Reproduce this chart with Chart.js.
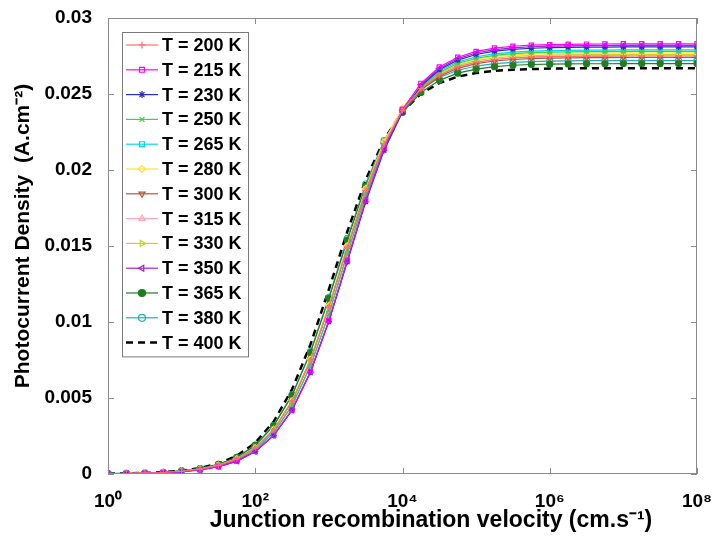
<!DOCTYPE html>
<html>
<head>
<meta charset="utf-8">
<script src="https://cdn.jsdelivr.net/npm/chart.js@4.4.1/dist/chart.umd.min.js"></script>
<style>
  html, body { margin: 0; padding: 0; background: #fff; }
  #wrap { width: 712px; height: 540px; }
</style>
</head>
<body>
<div id="wrap"><canvas id="chart-jph" width="712" height="540"></canvas></div>
<script>
// junction recombination velocity (cm/s), quarter-decade steps
const velocity = [1, 1.778, 3.162, 5.623, 10, 17.78, 31.62, 56.23, 100, 177.8, 316.2, 562.3,
  1000, 1778, 3162, 5623, 10000, 17783, 31623, 56234, 100000, 177828, 316228, 562341,
  1000000, 1778279, 3162278, 5623413, 10000000, 17782794, 31622777, 56234133, 100000000];

const xTicks = [1, 100, 10000, 1000000, 100000000];
const xTickLabels = ["10\u2070", "10\u00b2", "10\u2074", "10\u2076", "10\u2078"];
const yTicks = [0, 0.005, 0.01, 0.015, 0.02, 0.025, 0.03];

const xTitle = "Junction recombination velocity (cm.s\u207b\u00b9)";
const yTitle = "Photocurrent Density  (A.cm\u207b\u00b2)";

const temps = ["T = 200 K", "T = 215 K", "T = 230 K", "T = 250 K", "T = 265 K", "T = 280 K",
  "T = 300 K", "T = 315 K", "T = 330 K", "T = 350 K", "T = 365 K", "T = 380 K", "T = 400 K"];

// photocurrent density (A/cm2)
const j200 = [0.00002, 0.00003, 0.00006, 0.00010, 0.00018, 0.00032, 0.00057, 0.00099, 0.00172, 0.00291, 0.00479, 0.00750,
  0.01100, 0.01492, 0.01865, 0.02171, 0.02391, 0.02536, 0.02625, 0.02679, 0.02709, 0.02727, 0.02737, 0.02743,
  0.02746, 0.02748, 0.02749, 0.02749, 0.02750, 0.02750, 0.02750, 0.02750, 0.02750];
const j215 = [0.00002, 0.00003, 0.00005, 0.00009, 0.00016, 0.00028, 0.00049, 0.00086, 0.00149, 0.00254, 0.00423, 0.00674,
  0.01011, 0.01406, 0.01803, 0.02144, 0.02398, 0.02570, 0.02678, 0.02742, 0.02780, 0.02802, 0.02814, 0.02821,
  0.02825, 0.02827, 0.02828, 0.02829, 0.02830, 0.02830, 0.02830, 0.02830, 0.02830];
const j230 = [0.00002, 0.00003, 0.00005, 0.00009, 0.00016, 0.00027, 0.00049, 0.00085, 0.00148, 0.00253, 0.00420, 0.00669,
  0.01004, 0.01396, 0.01791, 0.02129, 0.02381, 0.02552, 0.02659, 0.02723, 0.02760, 0.02782, 0.02794, 0.02801,
  0.02805, 0.02807, 0.02808, 0.02809, 0.02810, 0.02810, 0.02810, 0.02810, 0.02810];
const j250 = [0.00002, 0.00003, 0.00005, 0.00010, 0.00017, 0.00030, 0.00053, 0.00092, 0.00160, 0.00272, 0.00450, 0.00710,
  0.01052, 0.01445, 0.01829, 0.02150, 0.02387, 0.02544, 0.02642, 0.02701, 0.02735, 0.02754, 0.02766, 0.02772,
  0.02775, 0.02777, 0.02779, 0.02779, 0.02780, 0.02780, 0.02780, 0.02780, 0.02780];
const j265 = [0.00002, 0.00003, 0.00005, 0.00010, 0.00017, 0.00030, 0.00053, 0.00093, 0.00161, 0.00273, 0.00451, 0.00712,
  0.01056, 0.01450, 0.01835, 0.02158, 0.02395, 0.02553, 0.02652, 0.02710, 0.02745, 0.02764, 0.02776, 0.02782,
  0.02785, 0.02787, 0.02789, 0.02789, 0.02790, 0.02790, 0.02790, 0.02790, 0.02790];
const j280 = [0.00002, 0.00003, 0.00006, 0.00010, 0.00018, 0.00032, 0.00057, 0.00100, 0.00173, 0.00294, 0.00482, 0.00755,
  0.01108, 0.01502, 0.01879, 0.02187, 0.02409, 0.02555, 0.02645, 0.02698, 0.02729, 0.02747, 0.02757, 0.02763,
  0.02766, 0.02768, 0.02769, 0.02769, 0.02770, 0.02770, 0.02770, 0.02770, 0.02770];
const j300 = [0.00002, 0.00003, 0.00006, 0.00010, 0.00018, 0.00032, 0.00057, 0.00099, 0.00171, 0.00290, 0.00477, 0.00747,
  0.01096, 0.01486, 0.01858, 0.02163, 0.02383, 0.02527, 0.02616, 0.02669, 0.02700, 0.02717, 0.02727, 0.02733,
  0.02736, 0.02738, 0.02739, 0.02739, 0.02740, 0.02740, 0.02740, 0.02740, 0.02740];
const j315 = [0.00002, 0.00003, 0.00006, 0.00010, 0.00018, 0.00032, 0.00057, 0.00099, 0.00172, 0.00291, 0.00479, 0.00750,
  0.01100, 0.01492, 0.01865, 0.02171, 0.02391, 0.02536, 0.02625, 0.02679, 0.02709, 0.02727, 0.02737, 0.02743,
  0.02746, 0.02748, 0.02749, 0.02749, 0.02750, 0.02750, 0.02750, 0.02750, 0.02750];
const j330 = [0.00002, 0.00003, 0.00006, 0.00010, 0.00018, 0.00032, 0.00057, 0.00100, 0.00173, 0.00292, 0.00481, 0.00753,
  0.01104, 0.01497, 0.01872, 0.02179, 0.02400, 0.02545, 0.02635, 0.02688, 0.02719, 0.02737, 0.02747, 0.02753,
  0.02756, 0.02758, 0.02759, 0.02759, 0.02760, 0.02760, 0.02760, 0.02760, 0.02760];
const j350 = [0.00002, 0.00003, 0.00005, 0.00009, 0.00016, 0.00028, 0.00049, 0.00085, 0.00148, 0.00254, 0.00421, 0.00671,
  0.01007, 0.01401, 0.01797, 0.02136, 0.02390, 0.02561, 0.02668, 0.02733, 0.02770, 0.02792, 0.02804, 0.02811,
  0.02815, 0.02817, 0.02818, 0.02819, 0.02820, 0.02820, 0.02820, 0.02820, 0.02820];
const j365 = [0.00002, 0.00004, 0.00006, 0.00011, 0.00020, 0.00036, 0.00063, 0.00109, 0.00188, 0.00317, 0.00517, 0.00799,
  0.01154, 0.01538, 0.01894, 0.02178, 0.02379, 0.02510, 0.02590, 0.02637, 0.02664, 0.02680, 0.02689, 0.02694,
  0.02696, 0.02698, 0.02699, 0.02699, 0.02700, 0.02700, 0.02700, 0.02700, 0.02700];
const j380 = [0.00002, 0.00004, 0.00006, 0.00011, 0.00020, 0.00036, 0.00063, 0.00110, 0.00190, 0.00320, 0.00520, 0.00805,
  0.01162, 0.01550, 0.01908, 0.02194, 0.02397, 0.02528, 0.02609, 0.02656, 0.02684, 0.02700, 0.02708, 0.02713,
  0.02716, 0.02718, 0.02719, 0.02719, 0.02720, 0.02720, 0.02720, 0.02720, 0.02720];
const j400 = [0.00002, 0.00004, 0.00007, 0.00012, 0.00022, 0.00039, 0.00069, 0.00120, 0.00205, 0.00345, 0.00557, 0.00852,
  0.01214, 0.01594, 0.01935, 0.02200, 0.02384, 0.02501, 0.02572, 0.02614, 0.02638, 0.02652, 0.02660, 0.02664,
  0.02667, 0.02668, 0.02669, 0.02670, 0.02670, 0.02670, 0.02670, 0.02670, 0.02670];

const series = [j200, j215, j230, j250, j265, j280, j300, j315, j330, j350, j365, j380, j400];
const colors = ["#ff6f6f", "#ff00ff", "#2a2ac8", "#3cd23c", "#00d4ff", "#ffe033", "#b0583a",
  "#ffa3b8", "#c4d22c", "#a424c8", "#1f7f1f", "#1fb0b4", "#000000"];
const markers = ["cross", "rect", "star", "crossRot", "rect", "rectRot", "triangle",
  "triangle", "triangle", "triangle", "circle", "circle", false];
const markerRot = [0, 0, 0, 0, 0, 0, 180, 0, 90, -90, 0, 0, 0];
const filled = [true, false, true, true, false, false, false, false, false, false, true, false, false];

const fontFamily = "'Liberation Sans', Arial, sans-serif";
const tickFont = { family: fontFamily, weight: "bold", size: 19 };

const datasets = series.map(function (vals, i) {
  const last = i === series.length - 1;
  return {
    label: temps[i],
    data: vals.map(function (v, k) { return { x: velocity[k], y: v }; }),
    borderColor: colors[i],
    backgroundColor: filled[i] ? colors[i] : "rgba(0,0,0,0)",
    borderWidth: last ? 2.5 : 1.2,
    borderDash: last ? [7, 5] : [],
    pointStyle: markers[i],
    pointRotation: markerRot[i],
    pointRadius: last ? 0 : 3,
    pointBorderWidth: 1.2,
    pointBorderColor: colors[i],
    pointBackgroundColor: filled[i] ? colors[i] : "rgba(0,0,0,0)",
    tension: 0,
  };
});

// MATLAB style box with small inward ticks
const boxPlugin = {
  id: "box",
  afterDatasetsDraw(chart) {
    const ctx = chart.ctx;
    const a = chart.chartArea;
    const xs = chart.scales.x;
    const ys = chart.scales.y;
    ctx.save();
    ctx.strokeStyle = "#8a8a8a";
    ctx.lineWidth = 1;
    ctx.strokeRect(a.left + 0.5, a.top + 0.5, a.right - a.left - 1, a.bottom - a.top - 1);
    ctx.beginPath();
    xTicks.forEach(function (v) {
      const px = Math.round(xs.getPixelForValue(v)) + 0.5;
      ctx.moveTo(px, a.bottom); ctx.lineTo(px, a.bottom - 6);
      ctx.moveTo(px, a.top); ctx.lineTo(px, a.top + 6);
    });
    yTicks.forEach(function (v) {
      const py = Math.round(ys.getPixelForValue(v)) + 0.5;
      ctx.moveTo(a.left, py); ctx.lineTo(a.left + 6, py);
      ctx.moveTo(a.right, py); ctx.lineTo(a.right - 6, py);
    });
    ctx.stroke();
    ctx.restore();
  },
};

// axis titles, placed as in the original figure
const titlePlugin = {
  id: "axisTitles",
  afterDraw(chart) {
    const ctx = chart.ctx;
    ctx.save();
    ctx.fillStyle = "#000";
    ctx.textAlign = "center";
    ctx.textBaseline = "middle";
    ctx.font = "bold 23px " + fontFamily;
    ctx.fillText(xTitle, 431, 521);
    ctx.translate(23, 236);
    ctx.rotate(-Math.PI / 2);
    ctx.font = "bold 21px " + fontFamily;
    ctx.fillText(yTitle, 0, 0);
    ctx.restore();
  },
};

// legend box inside the axes, upper left
const legendPlugin = {
  id: "boxLegend",
  afterDraw(chart) {
    const ctx = chart.ctx;
    const left = 122, top = 32, w = 126, rowH = 24.8;
    const h = rowH * temps.length + 2;
    ctx.save();
    ctx.fillStyle = "#fff";
    ctx.fillRect(left, top, w, h);
    ctx.strokeStyle = "#7a7a7a";
    ctx.lineWidth = 1;
    ctx.strokeRect(left + 0.5, top + 0.5, w, h);
    ctx.font = "bold 18px " + fontFamily;
    ctx.textBaseline = "middle";
    temps.forEach(function (t, i) {
      const y = top + 13 + i * rowH;
      const ds = datasets[i];
      ctx.strokeStyle = ds.borderColor;
      ctx.lineWidth = ds.borderWidth;
      ctx.setLineDash(ds.borderDash);
      ctx.beginPath();
      ctx.moveTo(left + 4, y);
      ctx.lineTo(left + 36, y);
      ctx.stroke();
      ctx.setLineDash([]);
      if (ds.pointStyle) {
        ctx.fillStyle = ds.pointBackgroundColor;
        ctx.lineWidth = 1.2;
        Chart.helpers.drawPoint(ctx, {
          pointStyle: ds.pointStyle,
          rotation: ds.pointRotation,
          radius: 3.5,
          borderWidth: 1.2,
        }, left + 20, y);
      }
      ctx.fillStyle = "#000";
      ctx.fillText(t, left + 40, y + 1);
    });
    ctx.restore();
  },
};

new Chart(document.getElementById("chart-jph"), {
  type: "line",
  data: { datasets: datasets },
  plugins: [boxPlugin, titlePlugin, legendPlugin],
  options: {
    responsive: false,
    animation: false,
    layout: { padding: { top: 18, right: 15, left: 0, bottom: 0 } },
    plugins: { legend: { display: false }, tooltip: { enabled: false } },
    scales: {
      x: {
        type: "logarithmic",
        min: 1,
        max: 100000000,
        grid: { display: false },
        border: { display: false },
        afterBuildTicks(scale) {
          scale.ticks = xTicks.map(function (v) { return { value: v }; });
        },
        afterFit(scale) {
          scale.height = 66;
          scale.paddingLeft = 0;
          scale.paddingRight = 0;
        },
        ticks: {
          autoSkip: false,
          maxRotation: 0,
          minRotation: 0,
          padding: 8,
          color: "#000",
          font: tickFont,
          callback: function (v) {
            const k = xTicks.indexOf(v);
            return k >= 0 ? xTickLabels[k] : "";
          },
        },
        title: { display: false },
      },
      y: {
        type: "linear",
        min: 0,
        max: 0.03,
        grid: { display: false },
        border: { display: false },
        afterBuildTicks(scale) {
          scale.ticks = yTicks.map(function (v) { return { value: v }; });
        },
        afterFit(scale) {
          scale.width = 108;
          scale.paddingTop = 0;
          scale.paddingBottom = 0;
        },
        ticks: {
          padding: 8,
          color: "#000",
          font: tickFont,
          callback: function (v) { return String(Number(v.toFixed(3))); },
        },
        title: { display: false },
      },
    },
  },
});
</script>
</body>
</html>
